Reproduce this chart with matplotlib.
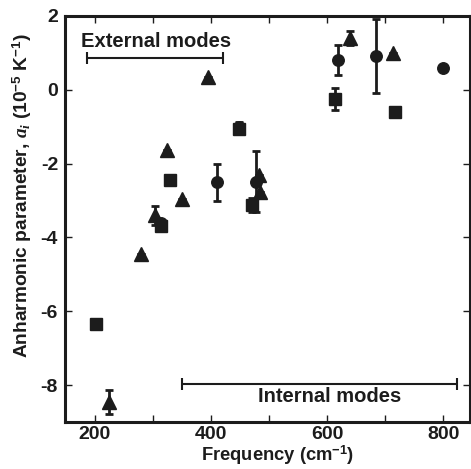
import numpy as np
import matplotlib
matplotlib.use('Agg')
from matplotlib import pyplot as plt

plt.rcParams['font.family'] = ['Liberation Sans', 'DejaVu Sans']
plt.rcParams['font.weight'] = 'bold'
plt.rcParams['axes.labelweight'] = 'bold'
plt.rcParams['axes.unicode_minus'] = False
plt.rcParams['mathtext.fontset'] = 'custom'
plt.rcParams['mathtext.rm'] = 'Liberation Sans:bold'
plt.rcParams['mathtext.it'] = 'Liberation Serif:italic'
plt.rcParams['mathtext.bf'] = 'Liberation Sans:bold'

# triangles
tri_x = [225, 280, 304, 325, 350, 395, 483, 485, 640, 713]
tri_y = [-8.45, -4.45, -3.40, -1.63, -2.96, 0.35, -2.30, -2.76, 1.40, 1.00]
tri_err = [0.33, 0, 0.25, 0, 0, 0, 0, 0, 0.18, 0]

# squares
sq_x = [203, 314, 329, 449, 471, 614, 717]
sq_y = [-6.35, -3.69, -2.44, -1.05, -3.12, -0.24, -0.59]
sq_err = [0, 0, 0, 0.12, 0.18, 0.30, 0]

# circles
circ_x = [314, 411, 449, 478, 619, 684, 800]
circ_y = [-3.62, -2.50, -1.00, -2.49, 0.80, 0.92, 0.60]
circ_err = [0, 0.50, 0.12, 0.82, 0.40, 1.00, 0]

ink = '#1c1c1c'

fig = plt.figure(figsize=(4.71, 4.69), dpi=100)
ax = fig.add_axes([0.138, 0.1, 0.86, 0.866])

eb = dict(ls='none', color=ink, ecolor=ink, elinewidth=2, capsize=3, capthick=2)
ax.errorbar(sq_x, sq_y, yerr=sq_err, marker='s', ms=8.8, **eb)
ax.errorbar(circ_x, circ_y, yerr=circ_err, marker='o', ms=8.3, **eb)
ax.errorbar(tri_x, tri_y, yerr=tri_err, marker='^', ms=9.5, **eb)

# mode ranges
ax.errorbar([304], [0.85], xerr=[[117], [117]], color=ink, capsize=4, elinewidth=1.5, capthick=1.5)
ax.text(305, 1.32, 'External modes', ha='center', va='center', fontsize=14.5, color=ink)
ax.errorbar([587], [-7.96], xerr=[[236], [236]], color=ink, capsize=4, elinewidth=1.5, capthick=1.5)
ax.text(605, -8.32, 'Internal modes', ha='center', va='center', fontsize=14.5, color=ink)

ax.set_xlim(149, 846)
ax.set_ylim(-9, 2)
ax.set_xticks([200, 400, 600, 800])
ax.set_xticks(np.arange(200, 900, 100), minor=True)
ax.set_yticks([-8, -6, -4, -2, 0, 2])
ax.tick_params(direction='in', top=True, right=True, length=5, width=1, labelsize=14, colors=ink, which='both')
ax.tick_params(axis='x', pad=3)
ax.tick_params(axis='y', pad=5)
for s in ax.spines.values():
    s.set_linewidth(2.2)
    s.set_color(ink)

ax.set_xlabel(r'Frequency (cm$^{-1}$)', fontsize=13.2, color=ink)
ax.set_ylabel(r'Anharmonic parameter, $a_i$ (10$^{-5}$ K$^{-1}$)', fontsize=13.8, color=ink)
ax.xaxis.set_label_coords(0.526, -0.054)
ax.yaxis.set_label_coords(-0.076, 0.557)

fig.savefig('out.png', dpi=100)
